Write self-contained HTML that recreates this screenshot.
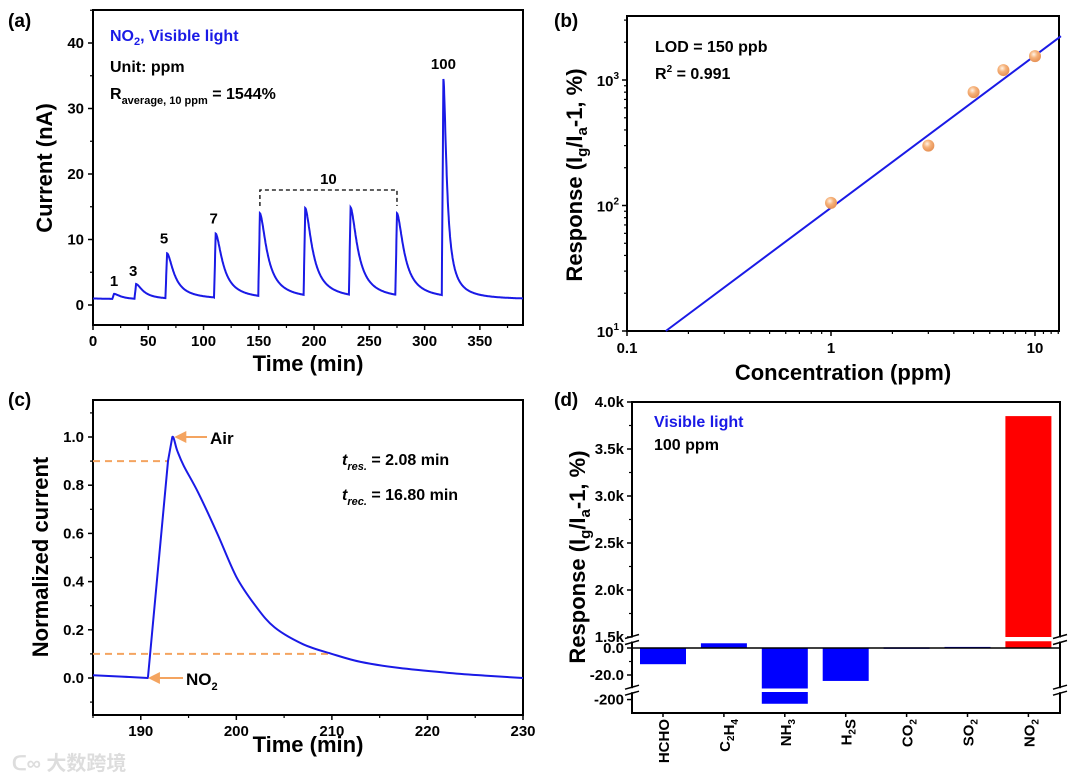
<!DOCTYPE html>
<html><head><meta charset="utf-8"><style>
html,body{margin:0;padding:0;background:#fff;}
svg{display:block;font-family:"Liberation Sans",Arial,sans-serif;font-weight:bold;}
</style></head><body>
<svg id="fig" xmlns="http://www.w3.org/2000/svg" width="1080" height="779" viewBox="0 0 1080 779">
<g id="pa"></g>
<g id="pb"></g>
<g id="pc"></g>
<g id="pd"></g>
<g><text x="12" y="770" font-size="20" fill="#ddd" font-family="'Liberation Sans','Noto Sans CJK SC',sans-serif">ᑕ∞ 大数跨境</text></g>
</svg>
<script>
// ---------- data ----------
const aPeakTimes = [19, 39, 67, 111, 151, 192, 233, 275, 317];
const aPeakVals = [1.7, 3.2, 7.9, 10.9, 14.0, 14.8, 14.9, 14.0, 34.5];
const aDecayScale = [7.5, 7.5, 7.5, 7.5, 7.5, 7.5, 7.5, 7.5, 3.5];
const aPeakLabels = ["1", "3", "5", "7", "", "", "", "", "100"];
const aXTicks = [0, 50, 100, 150, 200, 250, 300, 350];
const aYTicks = [0, 10, 20, 30, 40];
const bConc = [1, 3, 5, 7, 10];
const bResp = [105, 300, 800, 1200, 1550];
const bFitStart = 0.155, bFitEnd = 13.4, bFitA = 10, bFitSlope = 1.213;
const cTime = [185, 188, 190.75, 192.85, 193.3, 193.8, 194.5, 196, 198, 200, 202, 204, 207, 210, 213, 217, 222, 226, 230];
const cVal = [0.011, 0.006, 0, 0.9, 1.0, 0.945, 0.88, 0.77, 0.6, 0.42, 0.3, 0.21, 0.14, 0.1, 0.067, 0.042, 0.022, 0.01, 0];
const cXTicks = [190, 200, 210, 220, 230];
const cYTicks = [0, 0.2, 0.4, 0.6, 0.8, 1.0];
const dGases = ["HCHO", "C2H4", "NH3", "H2S", "CO2", "SO2", "NO2"];
const dValues = [-12, 3.5, -205, -24.4, 0.5, 0.8, 3850];
const dUpperTicks = [1500, 2000, 2500, 3000, 3500, 4000];
const dUpperLabels = ["1.5k", "2.0k", "2.5k", "3.0k", "3.5k", "4.0k"];

const NS = "http://www.w3.org/2000/svg";
function mk(parent, tag, attrs, text) {
  const e = document.createElementNS(NS, tag);
  for (const k in attrs) e.setAttribute(k, attrs[k]);
  if (text !== undefined) e.textContent = text;
  parent.appendChild(e);
  return e;
}
const BLUE = "#1a1ae6", ORANGE = "#f4a460";

// ---------- panel a ----------
(function () {
  const g = document.getElementById("pa");
  const L = 93, R = 523, T = 10, B = 325;
  const x = t => L + (t - 0) * (R - L) / 389;
  const y = v => 305 - v * 6.55;
  let e;
  e = mk(g, "text", { x: 8, y: 27, "font-size": 19 }, "(a)");
   
  e = mk(g, "rect", { x: L, y: T, width: R - L, height: B - T, fill: "none", stroke: "#000", "stroke-width": 2 });
   
  aXTicks.forEach(t => {
    mk(g, "line", { x1: x(t), x2: x(t), y1: B, y2: B + 5, stroke: "#000", "stroke-width": 1.5 });
    mk(g, "line", { x1: x(t + 25), x2: x(t + 25), y1: B, y2: B + 3, stroke: "#000", "stroke-width": 1.2 });
    e = mk(g, "text", { x: x(t), y: B + 21, "font-size": 15, "text-anchor": "middle" }, t);
     
  });
  aYTicks.forEach(v => {
    mk(g, "line", { x1: L - 5, x2: L, y1: y(v), y2: y(v), stroke: "#000", "stroke-width": 1.5 });
    mk(g, "line", { x1: L - 3, x2: L, y1: y(v + 5), y2: y(v + 5), stroke: "#000", "stroke-width": 1.2 });
    e = mk(g, "text", { x: L - 9, y: y(v) + 5, "font-size": 15, "text-anchor": "end" }, v);
     
  });
  mk(g, "line", { x1: L - 3, x2: L, y1: y(-5), y2: y(-5), stroke: "#000", "stroke-width": 1.2 });
  e = mk(g, "text", { x: (L + R) / 2, y: 371, "font-size": 22, "text-anchor": "middle" }, "Time (min)");
   
  e = mk(g, "text", { x: 0, y: 0, "font-size": 22, "text-anchor": "middle", transform: "translate(52,168) rotate(-90)" }, "Current (nA)");
   
  function decay(i, t) {
    const dt = t - aPeakTimes[i], P = aPeakVals[i], b = 0.8;
    return b + (P - b) / (1 + Math.pow(dt / aDecayScale[i], 1.68));
  }
  function val(t) {
    let i = -1;
    for (let k = 0; k < aPeakTimes.length; k++) if (aPeakTimes[k] - 1.5 <= t) i = k;
    if (i < 0) return 1.0 - t * 0.004;
    const st = aPeakTimes[i] - 1.5;
    if (t < aPeakTimes[i]) {
      const v0 = val(st - 0.001);
      return v0 + (aPeakVals[i] - v0) * (t - st) / 1.5;
    }
    return decay(i, t);
  }
  let d = "";
  for (let t = 0; t <= 389; t += 0.25) d += (t ? "L" : "M") + x(t).toFixed(1) + "," + y(val(t)).toFixed(1);
  e = mk(g, "path", { d: d, fill: "none", stroke: BLUE, "stroke-width": 2 });
   
  const lblOff = [[0, -8], [-3, -8], [-3, -10], [-2, -10]];
  aPeakLabels.forEach((s, i) => {
    if (!s) return;
    const off = lblOff[i] || [0, -10];
    e = mk(g, "text", { x: x(aPeakTimes[i]) + off[0], y: y(aPeakVals[i]) + off[1], "font-size": 15, "text-anchor": "middle" }, s);
     
  });
  const bx1 = x(aPeakTimes[4]), bx2 = x(aPeakTimes[7]);
  e = mk(g, "path", { d: `M${bx1},206 V190 H${bx2} V206`, fill: "none", stroke: "#000", "stroke-width": 1.3, "stroke-dasharray": "4,3" });
   
  e = mk(g, "text", { x: (bx1 + bx2) / 2, y: 184, "font-size": 15, "text-anchor": "middle" }, "10");
   
  e = mk(g, "text", { x: 110, y: 41, "font-size": 16, fill: BLUE });
  e.innerHTML = 'NO<tspan font-size="11" dy="4">2</tspan><tspan dy="-4">, Visible light</tspan>';
   
  e = mk(g, "text", { x: 110, y: 72, "font-size": 16 }, "Unit: ppm");
   
  e = mk(g, "text", { x: 110, y: 99, "font-size": 16 });
  e.innerHTML = 'R<tspan font-size="11" dy="5">average, 10 ppm</tspan><tspan dy="-5"> = 1544%</tspan>';
   
})();

// ---------- panel b ----------
(function () {
  const g = document.getElementById("pb");
  const L = 627, R = 1059, T = 16, B = 331;
  const x = c => 627 + (Math.log10(c) + 1) * 204;
  const y = r => 331 - (Math.log10(r) - 1) * 125.5;
  let e;
  e = mk(g, "text", { x: 554, y: 27, "font-size": 19 }, "(b)");
   
  e = mk(g, "rect", { x: L, y: T, width: R - L, height: B - T, fill: "none", stroke: "#000", "stroke-width": 2 });
   
  [0.1, 1, 10].forEach(c => {
    mk(g, "line", { x1: x(c), x2: x(c), y1: B, y2: B + 5, stroke: "#000", "stroke-width": 1.5 });
    e = mk(g, "text", { x: x(c), y: B + 22, "font-size": 15, "text-anchor": "middle" }, c);
     
  });
  [0.2, 0.3, 0.4, 0.5, 0.6, 0.7, 0.8, 0.9, 2, 3, 4, 5, 6, 7, 8, 9, 11, 12, 13].forEach(c =>
    mk(g, "line", { x1: x(c), x2: x(c), y1: B, y2: B + 3, stroke: "#000", "stroke-width": 1.2 }));
  [1, 2, 3].forEach(p => {
    const v = Math.pow(10, p);
    mk(g, "line", { x1: L - 5, x2: L, y1: y(v), y2: y(v), stroke: "#000", "stroke-width": 1.5 });
    e = mk(g, "text", { x: L - 8, y: y(v) + 6, "font-size": 15, "text-anchor": "end" });
    e.innerHTML = '10<tspan font-size="10" dy="-7">' + p + '</tspan>';
     
  });
  [20, 30, 40, 50, 60, 70, 80, 90, 200, 300, 400, 500, 600, 700, 800, 900, 2000, 3000].forEach(v =>
    mk(g, "line", { x1: L - 3, x2: L, y1: y(v), y2: y(v), stroke: "#000", "stroke-width": 1.2 }));
  e = mk(g, "text", { x: (L + R) / 2, y: 380, "font-size": 22, "text-anchor": "middle" }, "Concentration (ppm)");
   
  e = mk(g, "text", { x: 0, y: 0, "font-size": 22, "text-anchor": "middle", transform: "translate(582,175) rotate(-90)" });
  e.innerHTML = 'Response (I<tspan font-size="15" dy="5">g</tspan><tspan dy="-5">/I</tspan><tspan font-size="15" dy="5">a</tspan><tspan dy="-5">-1, %)</tspan>';
   
  const fy = c => bFitA * Math.pow(c / bFitStart, bFitSlope);
  e = mk(g, "line", { x1: x(bFitStart), y1: y(fy(bFitStart)), x2: x(bFitEnd), y2: y(fy(bFitEnd)), stroke: BLUE, "stroke-width": 2 });
   
  const defs = mk(g, "defs", {});
  const rg = mk(defs, "radialGradient", { id: "ball", cx: "0.4", cy: "0.35", r: "0.6" });
  mk(rg, "stop", { offset: "0", "stop-color": "#fff3e6" });
  mk(rg, "stop", { offset: "0.5", "stop-color": "#f6b27a" });
  mk(rg, "stop", { offset: "1", "stop-color": "#e8955a" });
  bConc.forEach((c, i) => {
    e = mk(g, "circle", { cx: x(c), cy: y(bResp[i]), r: 6, fill: "url(#ball)" });
     
  });
  e = mk(g, "text", { x: 655, y: 52, "font-size": 16 }, "LOD = 150 ppb");
   
  e = mk(g, "text", { x: 655, y: 79, "font-size": 16 });
  e.innerHTML = 'R<tspan font-size="10" dy="-7">2</tspan><tspan dy="7"> = 0.991</tspan>';
   
})();

// ---------- panel c ----------
(function () {
  const g = document.getElementById("pc");
  const L = 93, R = 523, T = 400, B = 715;
  const x = t => L + (t - 185) * (R - L) / 45;
  const y = v => 678 - v * 241;
  let e;
  e = mk(g, "text", { x: 8, y: 406, "font-size": 19 }, "(c)");
   
  e = mk(g, "rect", { x: L, y: T, width: R - L, height: B - T, fill: "none", stroke: "#000", "stroke-width": 2 });
   
  cXTicks.forEach(t => {
    mk(g, "line", { x1: x(t), x2: x(t), y1: B, y2: B + 5, stroke: "#000", "stroke-width": 1.5 });
    if (t - 5 >= 185) mk(g, "line", { x1: x(t - 5), x2: x(t - 5), y1: B, y2: B + 3, stroke: "#000", "stroke-width": 1.2 });
    e = mk(g, "text", { x: x(t), y: B + 21, "font-size": 15, "text-anchor": "middle" }, t);
     
  });
  cYTicks.forEach(v => {
    mk(g, "line", { x1: L - 5, x2: L, y1: y(v), y2: y(v), stroke: "#000", "stroke-width": 1.5 });
    e = mk(g, "text", { x: L - 9, y: y(v) + 5, "font-size": 15, "text-anchor": "end" }, v.toFixed(1));
     
  });
  [-0.1, 0.1, 0.3, 0.5, 0.7, 0.9, 1.1].forEach(v =>
    mk(g, "line", { x1: L - 3, x2: L, y1: y(v), y2: y(v), stroke: "#000", "stroke-width": 1.2 }));
  e = mk(g, "text", { x: 308, y: 752, "font-size": 22, "text-anchor": "middle" }, "Time (min)");
   
  e = mk(g, "text", { x: 0, y: 0, "font-size": 22, "text-anchor": "middle", transform: "translate(48,557) rotate(-90)" }, "Normalized current");
   
  e = mk(g, "line", { x1: L, x2: x(192.85), y1: y(0.9), y2: y(0.9), stroke: ORANGE, "stroke-width": 2, "stroke-dasharray": "7,5" });
   
  e = mk(g, "line", { x1: L, x2: x(210), y1: y(0.1), y2: y(0.1), stroke: ORANGE, "stroke-width": 2, "stroke-dasharray": "7,5" });
   
  const P = cTime.map((t, i) => [x(t), y(cVal[i])]);
  let d = "M" + P[0][0].toFixed(1) + "," + P[0][1].toFixed(1);
  for (let i = 0; i < P.length - 1; i++) {
    const p0 = P[Math.max(i - 1, 0)], p1 = P[i], p2 = P[i + 1], p3 = P[Math.min(i + 2, P.length - 1)];
    if (i <= 3) { d += "L" + p2[0].toFixed(1) + "," + p2[1].toFixed(1); continue; }
    const c1 = [p1[0] + (p2[0] - p0[0]) / 6, p1[1] + (p2[1] - p0[1]) / 6];
    const c2 = [p2[0] - (p3[0] - p1[0]) / 6, p2[1] - (p3[1] - p1[1]) / 6];
    d += "C" + c1.map(n => n.toFixed(1)).join(",") + " " + c2.map(n => n.toFixed(1)).join(",") + " " + p2[0].toFixed(1) + "," + p2[1].toFixed(1);
  }
  e = mk(g, "path", { d: d, fill: "none", stroke: BLUE, "stroke-width": 2, "stroke-linejoin": "round" });
   
  const ax = x(193.3) + 2;
  e = mk(g, "g", {});
   
  mk(e, "line", { x1: ax + 10, x2: 207, y1: y(1), y2: y(1), stroke: ORANGE, "stroke-width": 2 });
  mk(e, "polygon", { points: `${ax},${y(1)} ${ax + 12},${y(1) - 6} ${ax + 12},${y(1) + 6}`, fill: ORANGE });
  e = mk(g, "text", { x: 210, y: y(1) + 7, "font-size": 17 }, "Air");
   
  const nx = x(190.75);
  e = mk(g, "g", {});
   
  mk(e, "line", { x1: nx + 10, x2: 183, y1: y(0), y2: y(0), stroke: ORANGE, "stroke-width": 2 });
  mk(e, "polygon", { points: `${nx},${y(0)} ${nx + 12},${y(0) - 6} ${nx + 12},${y(0) + 6}`, fill: ORANGE });
  e = mk(g, "text", { x: 186, y: y(0) + 7, "font-size": 17 });
  e.innerHTML = 'NO<tspan font-size="11" dy="5">2</tspan>';
   
  e = mk(g, "text", { x: 342, y: 465, "font-size": 16 });
  e.innerHTML = '<tspan font-style="italic">t</tspan><tspan font-size="11" font-style="italic" dy="5">res.</tspan><tspan dy="-5"> =  2.08  min</tspan>';
   
  e = mk(g, "text", { x: 342, y: 500, "font-size": 16 });
  e.innerHTML = '<tspan font-style="italic">t</tspan><tspan font-size="11" font-style="italic" dy="5">rec.</tspan><tspan dy="-5"> = 16.80 min</tspan>';
   
})();

// ---------- panel d ----------
(function () {
  const g = document.getElementById("pd");
  const L = 632, R = 1060, T = 402, B = 713;
  const segs = [
    { d0: 1500, d1: 4000, y0: 637, y1: 402 },
    { d0: -30, d1: 5, y0: 688.5, y1: 641.25 },
    { d0: -216, d1: -191, y0: 713, y1: 692 }
  ];
  const sy = (s, v) => s.y0 + (v - s.d0) * (s.y1 - s.y0) / (s.d1 - s.d0);
  const cx = i => 663 + i * 60.9;
  const bw = 46;
  let e;
  e = mk(g, "text", { x: 554, y: 406, "font-size": 19 }, "(d)");
   
  dGases.forEach((gname, i) => {
    const v = dValues[i];
    segs.forEach(s => {
      const lo = Math.max(Math.min(0, v), s.d0), hi = Math.min(Math.max(0, v), s.d1);
      if (hi <= lo) return;
      const ya = sy(s, hi), yb = sy(s, lo);
      e = mk(g, "rect", { x: cx(i) - bw / 2, y: ya, width: bw, height: Math.max(yb - ya, 1.5), fill: v > 1000 ? "#ff0000" : "#0000ff" });
       
    });
  });
  e = mk(g, "path", { d: `M${L},${T} H${R} V${B} H${L} Z`, fill: "none", stroke: "#000", "stroke-width": 2 });
   
  mk(g, "line", { x1: L, x2: R, y1: sy(segs[1], 0), y2: sy(segs[1], 0), stroke: "#000", "stroke-width": 1.5 });
  [639.5, 690.2].forEach(by => {
    [L, R].forEach(bx => {
      mk(g, "rect", { x: bx - 6, y: by - 2, width: 12, height: 4, fill: "#fff" });
      mk(g, "line", { x1: bx - 7, x2: bx + 7, y1: by - 1, y2: by - 5, stroke: "#000", "stroke-width": 1.5 });
      mk(g, "line", { x1: bx - 7, x2: bx + 7, y1: by + 5, y2: by + 1, stroke: "#000", "stroke-width": 1.5 });
    });
  });
  dUpperTicks.forEach((v, i) => {
    const yy = sy(segs[0], v);
    mk(g, "line", { x1: L - 5, x2: L, y1: yy, y2: yy, stroke: "#000", "stroke-width": 1.5 });
    if (v < 4000) mk(g, "line", { x1: L - 3, x2: L, y1: sy(segs[0], v + 250), y2: sy(segs[0], v + 250), stroke: "#000", "stroke-width": 1.2 });
    e = mk(g, "text", { x: L - 8, y: yy + 5, "font-size": 15, "text-anchor": "end" }, dUpperLabels[i]);
     
  });
  [[segs[1], 0, "0.0"], [segs[1], -20, "-20.0"], [segs[2], -200, "-200"]].forEach(([s, v, lab]) => {
    const yy = sy(s, v);
    mk(g, "line", { x1: L - 5, x2: L, y1: yy, y2: yy, stroke: "#000", "stroke-width": 1.5 });
    e = mk(g, "text", { x: L - 8, y: yy + 5, "font-size": 15, "text-anchor": "end" }, lab);
     
  });
  mk(g, "line", { x1: L - 3, x2: L, y1: sy(segs[1], -10), y2: sy(segs[1], -10), stroke: "#000", "stroke-width": 1.2 });
  dGases.forEach((gname, i) => {
    mk(g, "line", { x1: cx(i), x2: cx(i), y1: B, y2: B + 4, stroke: "#000", "stroke-width": 1.5 });
    const html = gname.replace(/(\d)/g, '<tspan font-size="10" dy="4">$1</tspan><tspan dy="-4"></tspan>');
    e = mk(g, "text", { x: 0, y: 0, "font-size": 15, "text-anchor": "end", transform: `translate(${cx(i) + 6},${B + 6}) rotate(-90)` });
    e.innerHTML = html;
     
  });
  e = mk(g, "text", { x: 0, y: 0, "font-size": 22, "text-anchor": "middle", transform: "translate(585,557) rotate(-90)" });
  e.innerHTML = 'Response (I<tspan font-size="15" dy="5">g</tspan><tspan dy="-5">/I</tspan><tspan font-size="15" dy="5">a</tspan><tspan dy="-5">-1, %)</tspan>';
   
  e = mk(g, "text", { x: 654, y: 427, "font-size": 16, fill: BLUE }, "Visible light");
   
  e = mk(g, "text", { x: 654, y: 450, "font-size": 16 }, "100 ppm");
   
})();
</script>
</body></html>
